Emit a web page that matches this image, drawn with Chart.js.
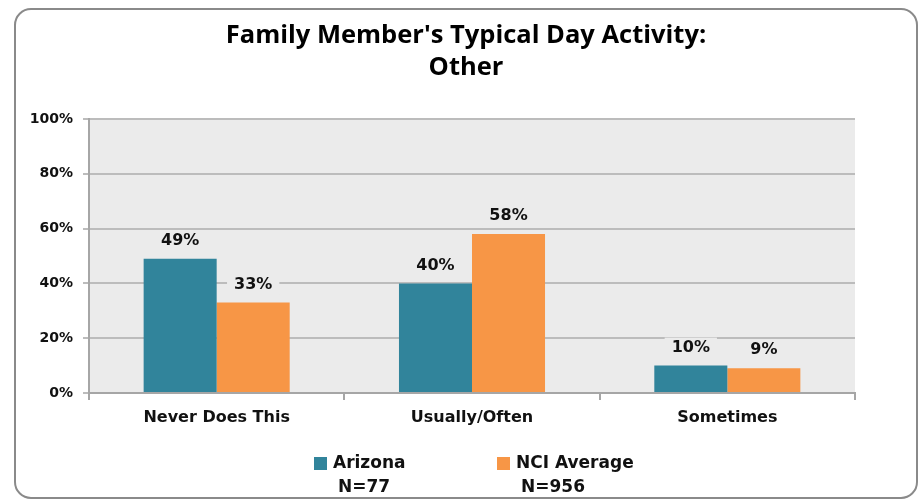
<!DOCTYPE html>
<html>
<head>
<meta charset="utf-8">
<script src="https://cdn.jsdelivr.net/npm/chart.js@4.4.1/dist/chart.umd.min.js"></script>
<style>
  html, body { margin: 0; padding: 0; background: #fff; }
  #wrap { width: 921px; height: 500px; }
</style>
</head>
<body>
<div id="wrap"><canvas id="myChart" width="921" height="500"></canvas></div>
<script>
// data
const categories = ['Never Does This', 'Usually/Often', 'Sometimes'];
const arizona = [49, 40, 10];
const nciAverage = [33, 58, 9];
const seriesNames = ['Arizona', 'NCI Average'];
const sampleSizes = ['N=77', 'N=956'];
const yTicks = [0, 20, 40, 60, 80, 100];
const titleLines = ["Family Member's Typical Day Activity:", 'Other'];

const teal = '#31849b';
const orange = '#f79646';
const plotBg = '#ebebeb';
const boldFont = "'DejaVu Sans', Verdana, sans-serif";

// frame, background, title
const framePlugin = {
  id: 'frame',
  beforeDraw(chart) {
    const c = chart.ctx;
    const a = chart.chartArea;
    c.save();
    c.fillStyle = '#fff';
    c.fillRect(0, 0, chart.width, chart.height);
    c.beginPath();
    c.roundRect(15, 9, 902, 489, 16);
    c.strokeStyle = '#8a8a8a';
    c.lineWidth = 2;
    c.stroke();
    c.fillStyle = plotBg;
    c.fillRect(a.left, a.top, a.right - a.left, a.bottom - a.top);
    c.fillStyle = '#000';
    c.textAlign = 'center';
    c.textBaseline = 'middle';
    c.font = "bold 25.5px 'Open Sans', sans-serif";
    c.fillText(titleLines[0], 466, 36);
    c.fillText(titleLines[1], 466, 68);
    c.restore();
  }
};

// value labels above bars
const valueLabels = {
  id: 'valueLabels',
  afterDatasetsDraw(chart) {
    const c = chart.ctx;
    c.save();
    c.font = 'bold 16px ' + boldFont;
    c.textAlign = 'center';
    c.textBaseline = 'middle';
    chart.data.datasets.forEach((ds, i) => {
      chart.getDatasetMeta(i).data.forEach((bar, j) => {
        const txt = ds.data[j] + '%';
        const w = c.measureText(txt).width + 14;
        const y = bar.y - 18;
        c.fillStyle = plotBg;
        c.fillRect(bar.x - w / 2, y - 10, w, 20);
        c.fillStyle = '#111';
        c.fillText(txt, bar.x, y);
      });
    });
    c.restore();
  }
};

// legend with N under each name
const nLegend = {
  id: 'nLegend',
  afterDraw(chart) {
    const c = chart.ctx;
    const xs = [314, 497];
    c.save();
    c.font = 'bold 17px ' + boldFont;
    c.textBaseline = 'middle';
    c.textAlign = 'left';
    chart.data.datasets.forEach((ds, i) => {
      c.fillStyle = ds.backgroundColor;
      c.fillRect(xs[i], 457, 13, 13);
      c.fillStyle = '#111';
      c.fillText(ds.label, xs[i] + 19, 464);
      c.fillText(sampleSizes[i], xs[i] + 24, 488);
    });
    c.restore();
  }
};

var ctx = document.getElementById('myChart').getContext('2d');
var myChart = new Chart(ctx, {
  type: 'bar',
  data: {
    labels: categories,
    datasets: [{
      label: seriesNames[0],
      data: arizona,
      backgroundColor: teal,
      categoryPercentage: 0.572,
      barPercentage: 1
    }, {
      label: seriesNames[1],
      data: nciAverage,
      backgroundColor: orange,
      categoryPercentage: 0.572,
      barPercentage: 1
    }]
  },
  options: {
    responsive: false,
    animation: false,
    layout: { padding: { top: 119, right: 66, bottom: 0, left: 0 } },
    plugins: {
      legend: { display: false },
      title: { display: false },
      tooltip: { enabled: false }
    },
    scales: {
      x: {
        afterFit: (s) => { s.height = 107; },
        grid: { drawOnChartArea: false, drawTicks: true, tickLength: 7, color: '#a6a6a6', lineWidth: 2 },
        border: { color: '#a6a6a6', width: 2 },
        ticks: { color: '#111', padding: 8, font: { family: boldFont, size: 16, weight: 'bold' } }
      },
      y: {
        min: 0,
        max: 100,
        afterFit: (s) => { s.width = 89; },
        afterBuildTicks: (s) => { s.ticks = yTicks.map(v => ({ value: v })); },
        grid: { color: '#bcbcbc', lineWidth: 2, tickLength: 6 },
        border: { color: '#a6a6a6', width: 2 },
        ticks: {
          color: '#111',
          padding: 10,
          font: { family: boldFont, size: 14, weight: 'bold' },
          callback: (v) => v + '%'
        }
      }
    }
  },
  plugins: [framePlugin, valueLabels, nLegend]
});
</script>
</body>
</html>
